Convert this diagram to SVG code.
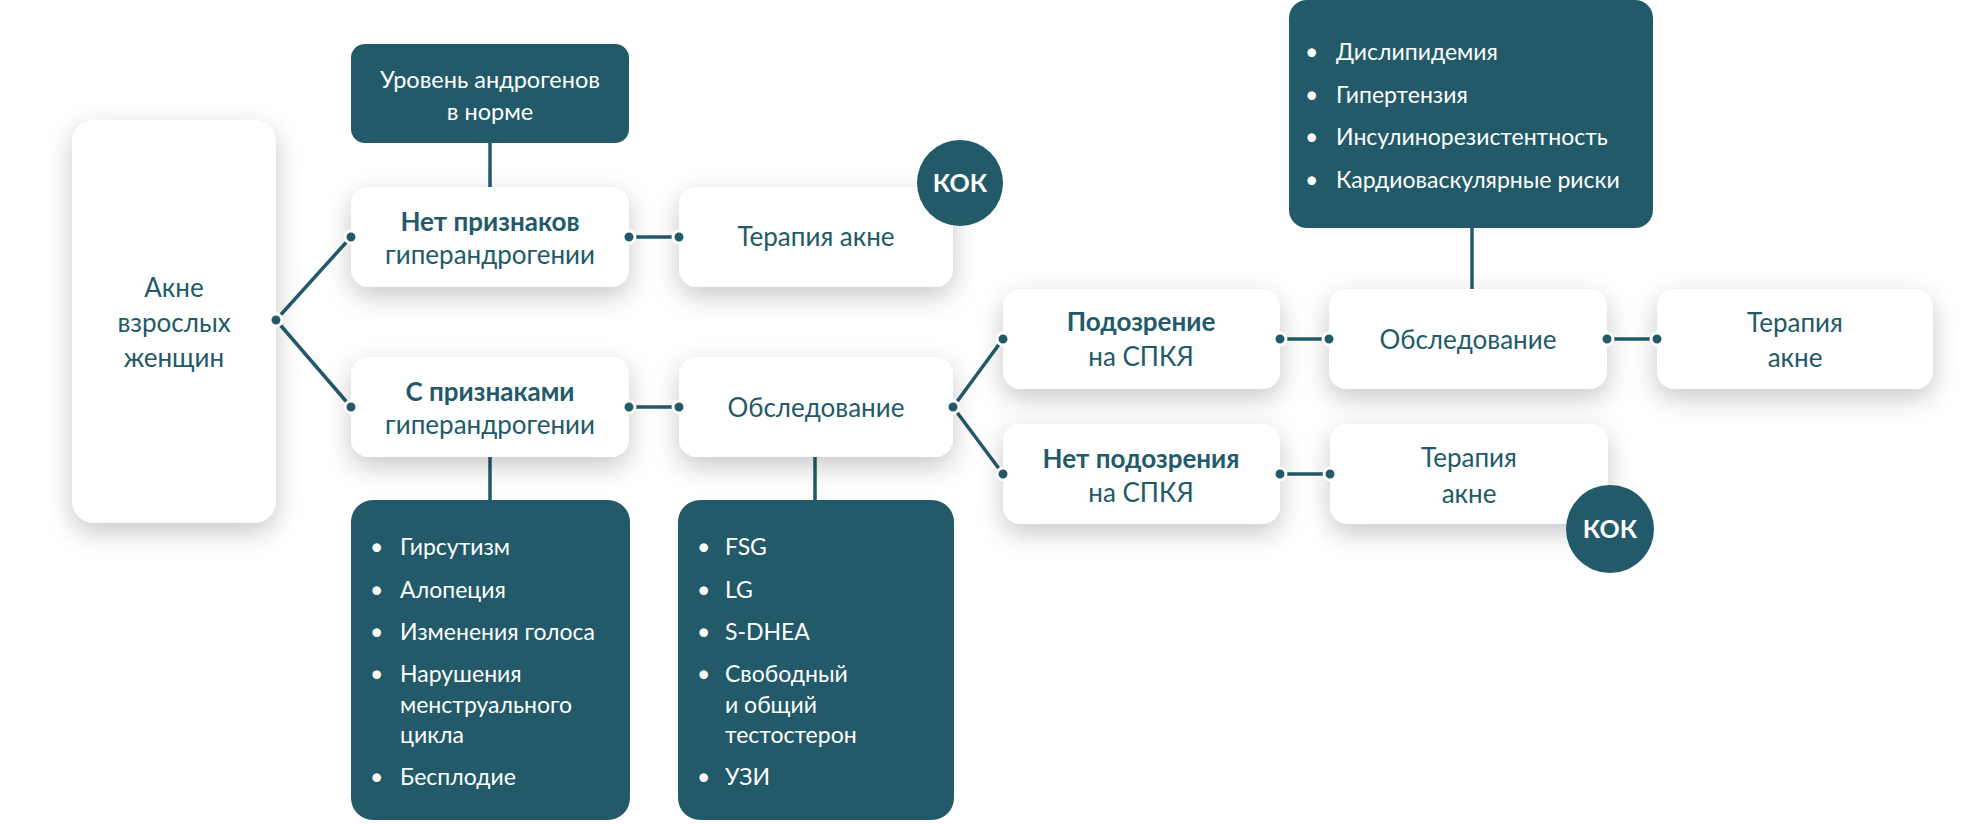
<svg xmlns="http://www.w3.org/2000/svg" width="1985" height="824" viewBox="0 0 1985 824">
<defs>
<filter id="sh" x="-30%" y="-30%" width="160%" height="170%">
<feDropShadow dx="0" dy="9" stdDeviation="13" flood-color="#000" flood-opacity="0.22"/>
</filter>
<style>
.wn{fill:#fff;filter:url(#sh)}
.dk{fill:#225a69}
.t{font-family:Lato,"Open Sans","Noto Sans",sans-serif;font-size:26px;fill:#225a69;text-anchor:middle}
.b{font-weight:bold}
.w{font-family:Lato,"Open Sans","Noto Sans",sans-serif;font-size:23px;fill:#fff}
.wc{text-anchor:middle;font-size:23.5px}
.kok{font-family:Lato,"Open Sans","Noto Sans",sans-serif;font-size:25px;font-weight:bold;fill:#fff;text-anchor:middle}
.ln{stroke:#225a69;stroke-width:3.5;fill:none}
.dot{fill:#225a69;stroke:#fff;stroke-width:3}
</style>
</defs>
<rect width="1985" height="824" fill="#fff"/>

<g id="connectors">
<line class="ln" x1="276" y1="320" x2="351" y2="237"/>
<line class="ln" x1="276" y1="320" x2="351" y2="407"/>
<line class="ln" x1="629" y1="237" x2="679" y2="237"/>
<line class="ln" x1="629" y1="407" x2="679" y2="407"/>
<line class="ln" x1="953" y1="407" x2="1003" y2="339"/>
<line class="ln" x1="953" y1="407" x2="1003" y2="474"/>
<line class="ln" x1="1280" y1="339" x2="1329" y2="339"/>
<line class="ln" x1="1607" y1="339" x2="1657" y2="339"/>
<line class="ln" x1="1280" y1="474" x2="1330" y2="474"/>
<line class="ln" x1="490" y1="143" x2="490" y2="187"/>
<line class="ln" x1="490" y1="457" x2="490" y2="500"/>
<line class="ln" x1="815" y1="457" x2="815" y2="500"/>
<line class="ln" x1="1472" y1="228" x2="1472" y2="289"/>
</g>

<g id="n-acne">
<rect class="wn" x="72" y="120" width="204" height="403" rx="22"/>
<text class="t" x="174" y="297">Акне</text>
<text class="t" x="174" y="332">взрослых</text>
<text class="t" x="174" y="367">женщин</text>
</g>

<g id="n-norm">
<rect class="dk" x="351" y="44" width="278" height="99" rx="14"/>
<text class="w wc" x="490" y="88">Уровень андрогенов</text>
<text class="w wc" x="490" y="120">в норме</text>
</g>

<g id="n-no-signs">
<rect class="wn" x="351" y="187" width="278" height="100" rx="18"/>
<text class="t b" x="490" y="231">Нет признаков</text>
<text class="t" x="490" y="264">гиперандрогении</text>
</g>

<g id="n-signs">
<rect class="wn" x="351" y="357" width="278" height="100" rx="18"/>
<text class="t b" x="490" y="401">С признаками</text>
<text class="t" x="490" y="434">гиперандрогении</text>
</g>

<g id="n-ther1">
<rect class="wn" x="679" y="187" width="274" height="100" rx="18"/>
<text class="t" x="816" y="246">Терапия акне</text>
</g>

<g id="n-kok1">
<circle cx="960" cy="183" r="43" class="dk"/>
<text class="kok" x="960" y="192">КОК</text>
</g>

<g id="n-exam1">
<rect class="wn" x="679" y="357" width="274" height="100" rx="18"/>
<text class="t" x="816" y="417">Обследование</text>
</g>

<g id="n-symptoms">
<rect class="dk" x="351" y="500" width="279" height="320" rx="22"/>
<text class="w" x="370" y="555">•</text><text class="w" x="400" y="555">Гирсутизм</text>
<text class="w" x="370" y="598">•</text><text class="w" x="400" y="598">Алопеция</text>
<text class="w" x="370" y="640">•</text><text class="w" x="400" y="640">Изменения голоса</text>
<text class="w" x="370" y="682">•</text><text class="w" x="400" y="682">Нарушения</text>
<text class="w" x="400" y="713">менструального</text>
<text class="w" x="400" y="743">цикла</text>
<text class="w" x="370" y="785">•</text><text class="w" x="400" y="785">Бесплодие</text>
</g>

<g id="n-tests">
<rect class="dk" x="678" y="500" width="276" height="320" rx="22"/>
<text class="w" x="697" y="555">•</text><text class="w" x="725" y="555">FSG</text>
<text class="w" x="697" y="598">•</text><text class="w" x="725" y="598">LG</text>
<text class="w" x="697" y="640">•</text><text class="w" x="725" y="640">S-DHEA</text>
<text class="w" x="697" y="682">•</text><text class="w" x="725" y="682">Свободный</text>
<text class="w" x="725" y="713">и общий</text>
<text class="w" x="725" y="743">тестостерон</text>
<text class="w" x="697" y="785">•</text><text class="w" x="725" y="785">УЗИ</text>
</g>

<g id="n-pcos">
<rect class="wn" x="1003" y="289" width="277" height="100" rx="18"/>
<text class="t b" x="1141" y="331">Подозрение</text>
<text class="t" x="1141" y="366">на СПКЯ</text>
</g>

<g id="n-nopcos">
<rect class="wn" x="1003" y="424" width="277" height="100" rx="18"/>
<text class="t b" x="1141" y="468">Нет подозрения</text>
<text class="t" x="1141" y="502">на СПКЯ</text>
</g>

<g id="n-risks">
<rect class="dk" x="1289" y="0" width="364" height="228" rx="18"/>
<text class="w" x="1305" y="60">•</text><text class="w" x="1336" y="60">Дислипидемия</text>
<text class="w" x="1305" y="103">•</text><text class="w" x="1336" y="103">Гипертензия</text>
<text class="w" x="1305" y="145">•</text><text class="w" x="1336" y="145">Инсулинорезистентность</text>
<text class="w" x="1305" y="188">•</text><text class="w" x="1336" y="188">Кардиоваскулярные риски</text>
</g>

<g id="n-exam2">
<rect class="wn" x="1329" y="289" width="278" height="100" rx="18"/>
<text class="t" x="1468" y="349">Обследование</text>
</g>

<g id="n-ther2">
<rect class="wn" x="1657" y="289" width="276" height="100" rx="18"/>
<text class="t" x="1795" y="332">Терапия</text>
<text class="t" x="1795" y="367">акне</text>
</g>

<g id="n-ther3">
<rect class="wn" x="1330" y="424" width="278" height="100" rx="18"/>
<text class="t" x="1469" y="467">Терапия</text>
<text class="t" x="1469" y="503">акне</text>
</g>

<g id="n-kok2">
<circle cx="1610" cy="529" r="44" class="dk"/>
<text class="kok" x="1610" y="538">КОК</text>
</g>

<g id="dots">
<circle class="dot" cx="276" cy="320" r="6"/>
<circle class="dot" cx="351" cy="237" r="6"/>
<circle class="dot" cx="351" cy="407" r="6"/>
<circle class="dot" cx="629" cy="237" r="6"/>
<circle class="dot" cx="679" cy="237" r="6"/>
<circle class="dot" cx="629" cy="407" r="6"/>
<circle class="dot" cx="679" cy="407" r="6"/>
<circle class="dot" cx="953" cy="407" r="6"/>
<circle class="dot" cx="1003" cy="339" r="6"/>
<circle class="dot" cx="1003" cy="474" r="6"/>
<circle class="dot" cx="1280" cy="339" r="6"/>
<circle class="dot" cx="1329" cy="339" r="6"/>
<circle class="dot" cx="1607" cy="339" r="6"/>
<circle class="dot" cx="1657" cy="339" r="6"/>
<circle class="dot" cx="1280" cy="474" r="6"/>
<circle class="dot" cx="1330" cy="474" r="6"/>
</g>
</svg>
